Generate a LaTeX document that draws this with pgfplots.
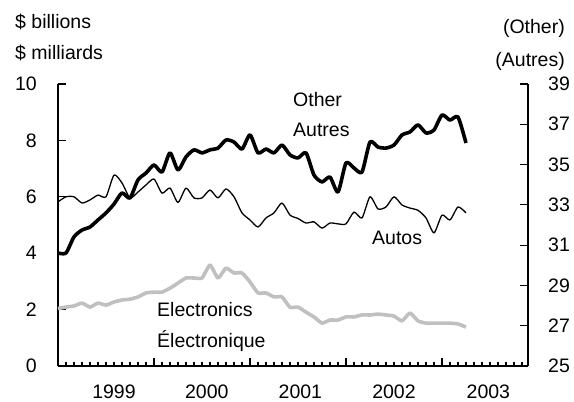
\documentclass[border=0pt]{standalone}
\usepackage{fontspec}
\setmainfont{Liberation Sans}
\usepackage{pgfplots}
\usepackage{pgfplotstable}
\pgfplotsset{compat=1.18}
\newcommand{\cf}{\fontsize{19.5}{23}\selectfont}
\definecolor{elec}{RGB}{192,192,192}

\pgfplotstableread{
m v
0 30.61
1 30.61
2 31.41
3 31.75
4 31.90
5 32.25
6 32.60
7 33.04
8 33.59
9 33.34
10 34.24
11 34.58
12 34.98
13 34.63
14 35.58
15 34.73
16 35.38
17 35.73
18 35.58
19 35.73
20 35.82
21 36.22
22 36.12
23 35.77
24 36.47
25 35.58
26 35.77
27 35.58
28 35.97
29 35.48
30 35.33
31 35.58
32 34.48
33 34.14
34 34.38
35 33.64
36 35.08
37 34.83
38 34.63
39 36.12
40 35.87
41 35.82
42 35.97
43 36.47
44 36.62
45 36.97
46 36.57
47 36.72
48 37.46
49 37.21
50 37.36
51 36.07
}\other

\pgfplotstableread{
m v
0 5.82
1 6.00
2 6.00
3 5.78
4 5.89
5 6.06
6 6.00
7 6.77
8 6.49
9 5.96
10 6.17
11 6.42
12 6.63
13 6.13
14 6.31
15 5.80
16 6.31
17 5.96
18 5.96
19 6.24
20 5.96
21 6.28
22 6.00
23 5.43
24 5.18
25 4.93
26 5.25
27 5.43
28 5.78
29 5.35
30 5.23
31 5.07
32 5.11
33 4.89
34 5.07
35 5.04
36 5.04
37 5.46
38 5.25
39 6.00
40 5.57
41 5.64
42 6.00
43 5.71
44 5.60
45 5.52
46 5.25
47 4.72
48 5.35
49 5.18
50 5.64
51 5.43
}\autos

\pgfplotstableread{
m v
0 2.04
1 2.09
2 2.13
3 2.23
4 2.09
5 2.23
6 2.16
7 2.27
8 2.34
9 2.37
10 2.45
11 2.59
12 2.62
13 2.62
14 2.76
15 2.94
16 3.12
17 3.12
18 3.12
19 3.58
20 3.12
21 3.47
22 3.30
23 3.30
24 2.98
25 2.59
26 2.59
27 2.45
28 2.45
29 2.08
30 2.09
31 1.91
32 1.74
33 1.52
34 1.63
35 1.63
36 1.74
37 1.74
38 1.81
39 1.81
40 1.84
41 1.81
42 1.77
43 1.60
44 1.88
45 1.60
46 1.52
47 1.52
48 1.52
49 1.52
50 1.49
51 1.38
}\elec

\begin{document}
\begin{tikzpicture}[x=1pt,y=1pt]
\useasboundingbox (-58,-36) rectangle (516,366);
\begin{axis}[
  at={(0,0)}, anchor=south west,
  scale only axis, width=470pt, height=282pt,
  xmin=0, xmax=58.75, ymin=0, ymax=10,
  axis x line*=bottom, axis y line*=left,
  axis line style={line width=1.3pt},
  tick align=inside,
  tick style={line width=1.1pt, black},
  major tick length=8pt, minor tick length=4pt,
  ytick={0,2,...,10},
  xtick={0,12,24,36,48}, xticklabels={},
  minor xtick={1,...,58},
  extra x ticks={7,18.6,30.3,42,53.8},
  extra x tick labels={1999,2000,2001,2002,2003},
  extra x tick style={major tick length=0pt},
  xticklabel style={anchor=north, inner sep=0pt, yshift=-19pt, font=\cf},
  yticklabel style={anchor=east, inner sep=0pt, xshift=-21pt, font=\cf},
  /pgf/number format/assume math mode=true,
  clip=false,
]
\addplot[black, line width=1.3pt, smooth, tension=0.4, line join=round] table[x=m,y=v] {\autos};
\addplot[elec, line width=3.6pt, smooth, tension=0.3, line join=round] table[x=m,y=v] {\elec};
\end{axis}
\begin{axis}[
  at={(0,0)}, anchor=south west,
  scale only axis, width=470pt, height=282pt,
  xmin=0, xmax=58.75, ymin=25, ymax=39,
  axis x line=none, axis y line*=right,
  axis line style={line width=1.3pt},
  tick align=inside,
  tick style={line width=1.1pt, black},
  major tick length=8pt,
  ytick={25,27,...,39},
  yticklabel style={anchor=west, inner sep=0pt, xshift=20pt, font=\cf},
  /pgf/number format/assume math mode=true,
  clip=false,
]
\addplot[black, line width=3.6pt, smooth, tension=0.4, line join=round] table[x=m,y=v] {\other};
\end{axis}
\begin{scope}[every node/.style={inner sep=0pt, font=\cf}]
\node[anchor=west] at (-43,344) {\$ billions};
\node[anchor=west] at (-43,313) {\$ milliards};
\node[anchor=east] at (507,338) {(Other)};
\node[anchor=east] at (507,305) {(Autres)};
\node[anchor=west] at (235,266) {Other};
\node[anchor=west] at (235,236) {Autres};
\node[anchor=west] at (314,128) {Autos};
\node[anchor=west] at (99,56) {Electronics};
\node[anchor=west] at (99,25) {Électronique};
\end{scope}
\end{tikzpicture}
\end{document}
